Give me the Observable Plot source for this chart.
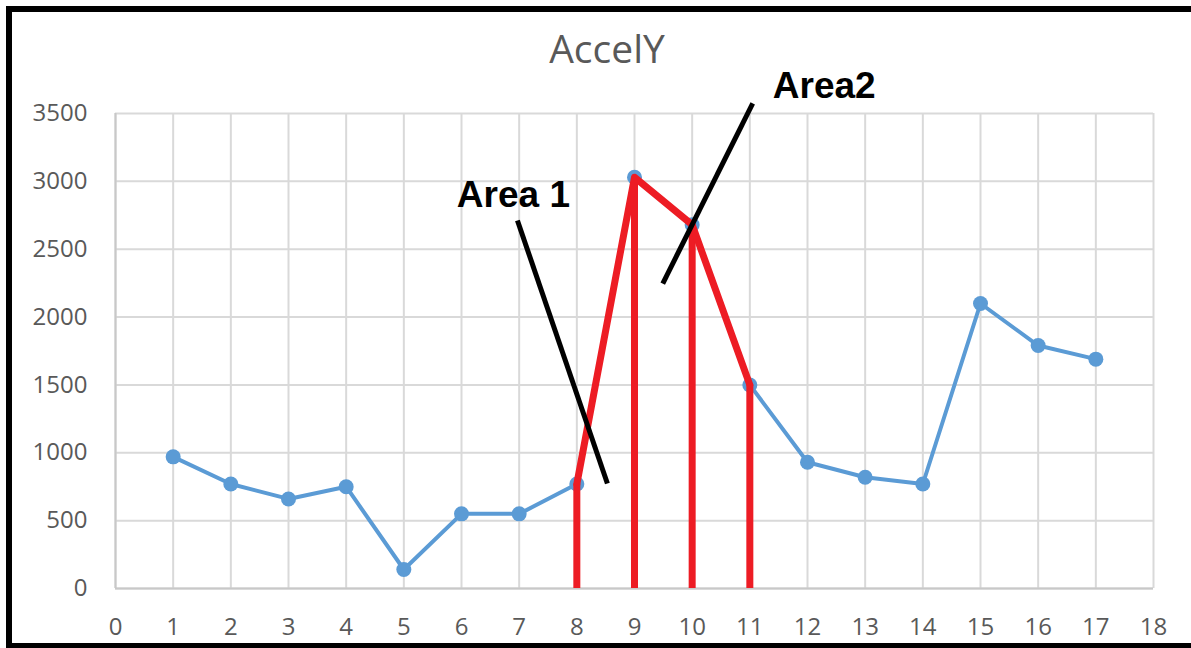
<!DOCTYPE html>
<html>
<head>
<meta charset="utf-8">
<script src="https://cdn.jsdelivr.net/npm/d3@7"></script>
<script src="https://cdn.jsdelivr.net/npm/@observablehq/plot@0.6"></script>
<style>
  body { margin: 0; background: #fff; }
  #wrap { position: relative; width: 1191px; height: 648px; overflow: hidden; background: #fff; }
  #title { position: absolute; left: 407px; width: 400px; top: 28px; text-align: center;
           font-family: "Open Sans", sans-serif; font-size: 39px; line-height: 39px; color: #595959; }
  .b { position: absolute; background: #000; }
  #chart { position: absolute; left: 0; top: 0; }
</style>
</head>
<body>
<div id="wrap">
  <div id="chart"></div>
  <div id="title">AccelY</div>
  <div class="b" style="left:6px;top:6px;width:1185px;height:6px"></div>
  <div class="b" style="left:6px;top:6px;width:6px;height:642px"></div>
  <div class="b" style="left:6px;top:643px;width:1185px;height:5px"></div>
</div>
<script>
// ---- data ----
const sampleIndex = [1, 2, 3, 4, 5, 6, 7, 8, 9, 10, 11, 12, 13, 14, 15, 16, 17];
const accelY = [970, 770, 660, 750, 140, 550, 550, 770, 3030, 2680, 1500, 930, 820, 770, 2100, 1790, 1690];
const highlightIndex = [8, 9, 10, 11];
const xTicks = [0, 1, 2, 3, 4, 5, 6, 7, 8, 9, 10, 11, 12, 13, 14, 15, 16, 17, 18];
const yTicks = [0, 500, 1000, 1500, 2000, 2500, 3000, 3500];
const annotationLabels = ["Area 1", "Area2"];
const labelX = [6.9, 12.29];
const labelY = [2900, 3700];
const pointerX1 = [6.97, 9.49];
const pointerY1 = [2712, 2247];
const pointerX2 = [8.53, 11.05];
const pointerY2 = [774, 3574];

// ---- derived tables ----
const series = sampleIndex.map((x, i) => ({x, y: accelY[i]}));
const highlight = series.filter(d => highlightIndex.includes(d.x));
const labels = annotationLabels.map((t, i) => ({t, x: labelX[i], y: labelY[i]}));
const pointers = pointerX1.map((x1, i) => ({x1, y1: pointerY1[i], x2: pointerX2[i], y2: pointerY2[i]}));

const chart = Plot.plot({
  width: 1191,
  height: 648,
  marginLeft: 115,
  marginRight: 38,
  marginTop: 113,
  marginBottom: 60,
  style: {fontFamily: "'Open Sans', sans-serif", fontSize: "24px", color: "#595959", background: "transparent", overflow: "visible"},
  x: {domain: [0, 18], label: null},
  y: {domain: [0, 3500], label: null},
  marks: [
    Plot.gridX(xTicks, {stroke: "#d9d9d9", strokeOpacity: 1, strokeWidth: 2}),
    Plot.gridY(yTicks, {stroke: "#d9d9d9", strokeOpacity: 1, strokeWidth: 2}),
    Plot.ruleX([0], {stroke: "#c8c8c8", strokeWidth: 2}),
    Plot.ruleY([0], {stroke: "#c8c8c8", strokeWidth: 2}),
    Plot.axisX(xTicks, {tickSize: 0, tickPadding: 29, tickFormat: d => String(d), label: null}),
    Plot.axisY(yTicks, {tickSize: 0, tickPadding: 28, tickFormat: d => String(d), label: null}),
    Plot.line(series, {x: "x", y: "y", stroke: "#5b9bd5", strokeWidth: 4}),
    Plot.dot(series, {x: "x", y: "y", r: 7.5, fill: "#5b9bd5"}),
    Plot.ruleX(highlight, {x: "x", y1: 0, y2: "y", stroke: "#ed1c24", strokeWidth: 7}),
    Plot.line(highlight, {x: "x", y: "y", stroke: "#ed1c24", strokeWidth: 7}),
    Plot.link(pointers, {x1: "x1", y1: "y1", x2: "x2", y2: "y2", stroke: "#000", strokeWidth: 5}),
    Plot.text(labels, {x: "x", y: "y", text: "t", fill: "#000", fontSize: 37, fontWeight: "bold",
      fontFamily: "'Liberation Sans', Arial, sans-serif"})
  ]
});
document.getElementById("chart").appendChild(chart);
</script>
</body>
</html>
